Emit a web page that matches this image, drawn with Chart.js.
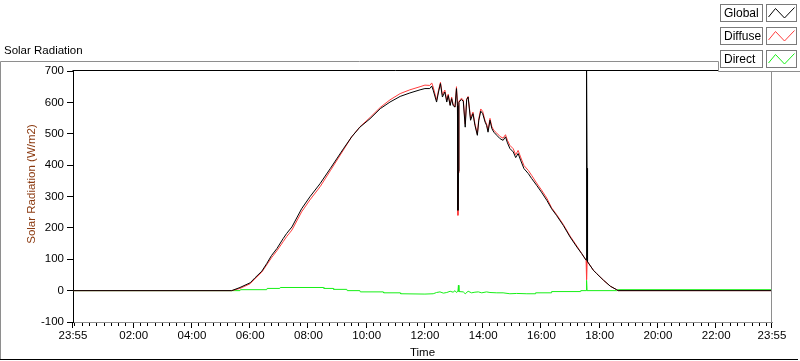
<!DOCTYPE html>
<html>
<head>
<meta charset="utf-8">
<script src="https://cdn.jsdelivr.net/npm/chart.js@4.4.0/dist/chart.umd.min.js"></script>
<style>
  html, body { margin: 0; padding: 0; background: #fff; }
  #wrap { width: 800px; height: 361px; }
</style>
</head>
<body>
<div id="wrap"><canvas id="solar-chart" width="800" height="361"></canvas></div>
<script>
// Horários das leituras (o primeiro 23:55 é da noite anterior)
const sunTimes = ['23:55','05:22','05:39','06:00','06:10','06:24','06:34','06:44','06:55','07:08','07:15','07:26','07:46','08:03','08:24','08:45','09:12','09:29','09:46','10:07','10:28','10:48','11:09','11:29','11:50','12:00','12:10','12:14','12:17','12:24','12:28','12:32','12:36','12:41','12:45','12:48','12:52','12:55','12:58','13:02','13:05','13:07','13:08','13:09','13:10','13:12','13:15','13:19','13:23','13:26','13:29','13:34','13:39','13:43','13:48','13:51','13:55','13:59','14:04','14:07','14:10','14:14','14:18','14:22','14:28','14:35','14:41','14:46','14:50','14:55','15:02','15:07','15:12','15:17','15:24','15:33','15:40','15:50','16:00','16:11','16:21','16:31','16:45','16:59','17:13','17:23','17:32','17:33','17:34','17:35','17:47','17:54','18:08','18:22','18:35','18:38','23:55'];
const globalRad = [0,0,10,25,41,62,86,112,134,166,182,203,261,299,341,389,452,490,521,548,580,601,619,630,640,644,644,652,639,601,633,660,617,633,601,622,590,612,590,585,644,590,256,380,600,604,609,604,521,609,617,543,564,527,495,543,572,564,537,527,505,543,516,505,495,484,479,490,471,453,442,424,437,416,389,373,357,336,314,288,261,240,208,171,139,118,97,700,390,92,65,54,33,14,3,0,0];
const diffuseRad = [0,0,7,22,38,59,82,105,127,156,172,193,251,289,331,382,448,490,522,552,584,608,628,640,650,655,654,662,649,607,639,664,624,639,607,626,592,617,595,585,650,596,240,375,604,607,613,608,531,611,619,550,569,532,499,548,579,571,541,531,511,549,522,511,502,491,486,497,479,463,452,433,447,426,399,383,367,343,321,295,264,243,211,174,142,118,97,35,90,92,65,54,33,14,3,0,0];

// Radiação direta tem leituras próprias
const directTimes = ['23:55','05:22','05:39','05:40','06:34','06:35','07:01','07:02','08:31','08:32','08:51','08:52','09:19','09:20','09:46','09:47','10:34','10:35','11:09','11:10','12:00','12:17','12:24','12:31','12:38','12:45','12:52','12:58','13:02','13:05','13:08','13:09','13:10','13:19','13:23','13:29','13:36','13:43','13:50','13:57','14:07','14:14','14:28','14:41','14:55','15:09','15:30','15:47','15:48','16:20','16:21','17:20','17:21','17:32','17:33','17:34','18:35','18:38','23:55'];
const directRad = [0,0,0,3,3,7,7,10,10,7,7,4,4,0,0,-4,-4,-7,-7,-10,-11,-10,-6,-4,-8,-6,-2,-5,0,-6,-2,17,-3,-4,-10,-2,-7,-5,-4,-7,-4,-6,-7,-7,-10,-9,-10,-10,-7,-7,-3,-3,0,0,33,0,0,3,3];

// Rótulos do eixo do tempo e do eixo Y
const xTickLabels = ['23:55','02:00','04:00','06:00','08:00','10:00','12:00','14:00','16:00','18:00','20:00','22:00','23:55'];
const yMin = -100, yMax = 700, yStep = 100;

const seriesNames = ['Global', 'Diffuse', 'Direct'];
const seriesColors = ['#000000', '#ff3c3c', '#17ef17'];

// Converte HH:MM em minutos desde as 23:55 do dia anterior
function toMinutes(t, isEnd) {
    const [h, m] = t.split(':').map(Number);
    let v = h * 60 + m + 5;
    if (v >= 1440) v -= 1440;
    if (isEnd && v === 0) v = 1440;
    return v;
}

function toPoints(times, values) {
    return times.map((t, i) => ({ x: toMinutes(t, i === times.length - 1), y: values[i] }));
}

const labelAt = {};
xTickLabels.forEach((t, i) => { labelAt[toMinutes(t, i === xTickLabels.length - 1)] = t; });

// Marcas menores a cada 15 min a partir de 00:00
const tickMinutes = [0];
for (let v = 5; v <= 1430; v += 15) tickMinutes.push(v);
tickMinutes.push(1440);

const uiFont = { family: 'Liberation Sans, Arial, sans-serif', size: 11.5 };

// Moldura, marcas do eixo X, títulos e legenda no estilo do painel
const panelPlugin = {
    id: 'panel',
    afterDraw(chart) {
        const ctx = chart.ctx;
        const a = chart.chartArea;
        const xScale = chart.scales.x;
        ctx.save();
        ctx.lineWidth = 1;

        // painel externo
        ctx.strokeStyle = '#8e8e8e';
        ctx.beginPath();
        ctx.moveTo(0.5, 360); ctx.lineTo(0.5, 61.5); ctx.lineTo(718.5, 61.5); ctx.lineTo(718.5, 71.5); ctx.lineTo(800, 71.5);
        ctx.stroke();
        ctx.strokeStyle = '#000';
        ctx.beginPath();
        ctx.moveTo(0, 359.5); ctx.lineTo(798, 359.5);
        ctx.stroke();

        // bordas da área do gráfico
        ctx.beginPath();
        ctx.moveTo(a.left - 0.5, a.top - 0.5); ctx.lineTo(718, a.top - 0.5);
        ctx.stroke();
        ctx.strokeStyle = '#8e8e8e';
        ctx.beginPath();
        ctx.moveTo(a.right - 0.5, 72); ctx.lineTo(a.right - 0.5, a.bottom);
        ctx.stroke();

        // marcas do eixo do tempo (maiores onde há rótulo)
        ctx.strokeStyle = '#000';
        ctx.beginPath();
        tickMinutes.forEach(v => {
            const px = Math.round(xScale.getPixelForValue(v)) - 0.5;
            const len = labelAt[v] ? 5 : 3;
            ctx.moveTo(px, a.bottom + 1);
            ctx.lineTo(px, a.bottom + 1 + len);
        });
        ctx.stroke();

        // títulos
        ctx.font = '11.5px "Liberation Sans", Arial, sans-serif';
        ctx.fillStyle = '#000';
        ctx.textBaseline = 'middle';
        ctx.textAlign = 'left';
        ctx.fillText('Solar Radiation', 4, 51);

        ctx.save();
        ctx.translate(32, 184);
        ctx.rotate(-Math.PI / 2);
        ctx.textAlign = 'center';
        ctx.fillStyle = '#8b3a10';
        ctx.fillText('Solar Radiation (W/m2)', 0, 0);
        ctx.restore();

        // legenda
        ctx.font = '12px "Liberation Sans", Arial, sans-serif';
        seriesNames.forEach((name, i) => {
            const y0 = 4 + i * 23;
            ctx.strokeStyle = '#7a7a7a';
            ctx.strokeRect(720.5, y0 + 0.5, 42, 17);
            ctx.strokeRect(766.5, y0 + 0.5, 30, 17);
            ctx.fillStyle = '#000';
            ctx.textAlign = 'left';
            ctx.fillText(name, 724, y0 + 9.5);
            ctx.strokeStyle = seriesColors[i];
            ctx.beginPath();
            ctx.moveTo(768.5, y0 + 13); ctx.lineTo(775.5, y0 + 4.5);
            ctx.lineTo(784.5, y0 + 14); ctx.lineTo(794.5, y0 + 3.5);
            ctx.stroke();
        });
        ctx.restore();
    }
};

const ctx = document.getElementById('solar-chart').getContext('2d');
const chart = new Chart(ctx, {
    type: 'line',
    data: {
        datasets: [
            { label: seriesNames[0], data: toPoints(sunTimes, globalRad), borderColor: seriesColors[0] },
            { label: seriesNames[1], data: toPoints(sunTimes, diffuseRad), borderColor: seriesColors[1] },
            { label: seriesNames[2], data: toPoints(directTimes, directRad), borderColor: seriesColors[2] }
        ]
    },
    options: {
        responsive: false,
        animation: false,
        layout: { padding: { top: 71, right: 28, left: 0, bottom: 0 } },
        elements: {
            point: { radius: 0 },
            line: { borderWidth: 1, tension: 0 }
        },
        plugins: {
            legend: { display: false },
            tooltip: { enabled: false }
        },
        scales: {
            x: {
                type: 'linear',
                min: 0,
                max: 1440,
                afterBuildTicks: axis => { axis.ticks = tickMinutes.map(v => ({ value: v })); },
                afterFit: axis => { axis.height = 39; },
                ticks: {
                    autoSkip: false,
                    maxRotation: 0,
                    color: '#000',
                    padding: 7,
                    font: uiFont,
                    callback: v => labelAt[v] || ''
                },
                grid: { drawOnChartArea: false, drawTicks: false },
                border: { color: '#8e8e8e' },
                title: { display: true, text: 'Time', color: '#000', font: uiFont, padding: { top: 0, bottom: 1 } }
            },
            y: {
                min: yMin,
                max: yMax,
                afterFit: axis => { axis.width = 73; },
                ticks: { stepSize: yStep, color: '#000', padding: 3, font: uiFont },
                grid: { drawOnChartArea: false, tickLength: 6, tickColor: '#000' },
                border: { color: '#000' }
            }
        }
    },
    plugins: [panelPlugin]
});
</script>
</body>
</html>
